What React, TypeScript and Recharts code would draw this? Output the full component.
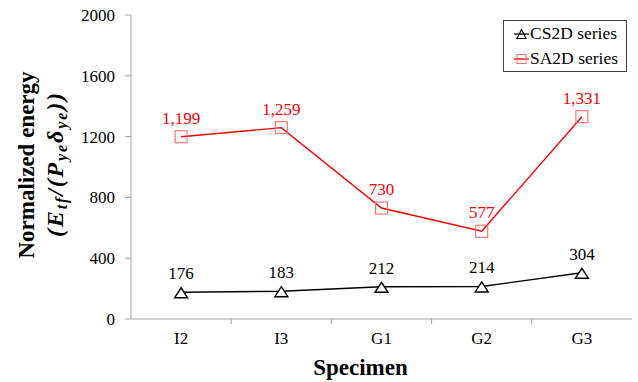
import React from 'react';
import { LineChart, Line, XAxis, YAxis, Legend, LabelList } from 'recharts';

// Specimens and normalized energy values for the two test series
const specimens = ['I2', 'I3', 'G1', 'G2', 'G3'];
const cs2dSeries = [176, 183, 212, 214, 304];
const sa2dSeries = [1199, 1259, 730, 577, 1331];
const yTicks = [0, 400, 800, 1200, 1600, 2000];

const data = specimens.map((s, i) => ({ specimen: s, cs2d: cs2dSeries[i], sa2d: sa2dSeries[i] }));

const W = 638;
const H = 382;
const MARGIN = { top: 15, right: 6, left: 0, bottom: 0 };
const Y_AXIS_W = 131;
const X_AXIS_H = 63;
const PLOT_W = W - MARGIN.left - MARGIN.right - Y_AXIS_W;
const BAND = PLOT_W / specimens.length;

const FONT = '"Liberation Serif", "Times New Roman", serif';
const AXIS_GRAY = '#a3a3a3';
const RED = '#ff0000';

const fmt = (v: number) => v.toLocaleString('en-US');

const Triangle = (props: any) => {
  const { cx, cy } = props;
  if (cx == null || cy == null) return null;
  return (
    <path
      d={`M${cx},${cy - 4.5} L${cx + 6.5},${cy + 5.5} L${cx - 6.5},${cy + 5.5} Z`}
      fill="#fff"
      stroke="#000"
      strokeWidth={1.4}
    />
  );
};

const Square = (props: any) => {
  const { cx, cy } = props;
  if (cx == null || cy == null) return null;
  return <rect x={cx - 6} y={cy - 6} width={12} height={12} fill="none" stroke="#ff6a6a" strokeWidth={1.1} />;
};

// Category labels centred on each band, tick marks on the band boundaries
const CategoryTick = (props: any) => {
  const { x, y, payload, index } = props;
  const last = index === specimens.length - 1;
  return (
    <g>
      {!last && <line x1={x + BAND / 2} x2={x + BAND / 2} y1={y} y2={y + 5} stroke={AXIS_GRAY} />}
      <text x={x} y={y + 13} dy="0.71em" textAnchor="middle" style={{ fontFamily: FONT, fontSize: 17 }} fill="#000">
        {payload.value}
      </text>
    </g>
  );
};

const ValueTick = (props: any) => {
  const { x, y, payload } = props;
  return (
    <text x={x} y={y} dy="0.355em" textAnchor="end" style={{ fontFamily: FONT, fontSize: 17 }} fill="#000">
      {payload.value}
    </text>
  );
};

const YTitle = (props: any) => {
  const vb = props.viewBox || { y: 15, height: 304 };
  const cy = vb.y + vb.height / 2 - 2;
  const x1 = 34;
  const x2 = 63;
  const formulaLen = 144;
  const base = { fontFamily: FONT, fontWeight: 'bold' as const, fill: '#000' };
  const sub = { fontSize: 16, baselineShift: '-22%' } as React.CSSProperties;
  return (
    <g>
      <g transform={`translate(${x1} ${cy}) rotate(-90)`}>
        <text x={0} y={0} textAnchor="middle" style={{ ...base, fontSize: 23 }}>
          Normalized energy
        </text>
      </g>
      <g transform={`translate(${x2} ${cy}) rotate(-90)`}>
        <text
          x={-formulaLen / 2}
          y={0}
          textAnchor="start"
          textLength={formulaLen}
          lengthAdjust="spacing"
          style={{ ...base, fontSize: 24, fontStyle: 'italic' }}
        >
          <tspan>(E</tspan>
          <tspan style={sub}>tf</tspan>
          <tspan>/(P</tspan>
          <tspan style={sub}>ye</tspan>
          <tspan>δ</tspan>
          <tspan style={sub}>ye</tspan>
          <tspan>))</tspan>
        </text>
      </g>
    </g>
  );
};

const XTitle = (props: any) => {
  const vb = props.viewBox || { x: 131, width: 501, y: 319 };
  return (
    <text
      x={vb.x + vb.width / 2 - 21}
      y={375}
      textAnchor="middle"
      style={{ fontFamily: FONT, fontWeight: 'bold', fontSize: 23 }}
      fill="#000"
    >
      Specimen
    </text>
  );
};

const LegendBox = () => {
  const rows = [
    { name: 'CS2D series', color: '#000', kind: 'tri' },
    { name: 'SA2D series', color: RED, kind: 'sq' },
  ];
  return (
    <div
      style={{
        border: '1px solid #404040',
        background: '#fff',
        width: 122,
        height: 50,
        fontFamily: FONT,
        fontSize: 17.5,
        color: '#000',
      }}
    >
      {rows.map((r) => (
        <div key={r.name} style={{ display: 'flex', alignItems: 'center', height: 25, paddingLeft: 9 }}>
          <svg width={17} height={14} style={{ display: 'block' }}>
            <line x1={1} x2={16} y1={7} y2={7} stroke={r.color} strokeWidth={1.3} />
            {r.kind === 'tri' ? (
              <path d="M8.5,2.5 L13,11.5 L4,11.5 Z" fill="none" stroke="#000" strokeWidth={1.2} />
            ) : (
              <rect x={4} y={2.5} width={9} height={9} fill="none" stroke="#ff6a6a" strokeWidth={1} />
            )}
          </svg>
          <span style={{ whiteSpace: 'nowrap' }}>{r.name}</span>
        </div>
      ))}
    </div>
  );
};

export default function App() {
  return (
    <div style={{ position: 'absolute', left: 0, top: 0, width: W, height: H, background: '#fff', fontFamily: FONT }}>
      <LineChart width={W} height={H} data={data} margin={MARGIN} style={{ fontFamily: FONT }}>
        <XAxis
          dataKey="specimen"
          height={X_AXIS_H}
          stroke={AXIS_GRAY}
          padding={{ left: BAND / 2, right: BAND / 2 }}
          tickSize={0}
          tickMargin={0}
          tickLine={false}
          tick={<CategoryTick />}
          interval={0}
          label={<XTitle />}
        />
        <XAxis xAxisId="top" dataKey="specimen" orientation="top" height={0} tick={false} tickLine={false} stroke={AXIS_GRAY} />
        <YAxis
          domain={[0, 2000]}
          ticks={yTicks}
          width={Y_AXIS_W}
          stroke={AXIS_GRAY}
          tickSize={6}
          tickMargin={10}
          tick={<ValueTick />}
          allowDataOverflow
          label={<YTitle />}
        />
        <YAxis yAxisId="right" orientation="right" domain={[0, 2000]} width={0} tick={false} tickLine={false} stroke={AXIS_GRAY} />
        <Legend
          layout="vertical"
          align="center"
          verticalAlign="middle"
          content={<LegendBox />}
          wrapperStyle={{ left: 503, top: 20, width: 124, height: 52 }}
        />
        <Line
          dataKey="cs2d"
          name="CS2D series"
          stroke="#000"
          strokeWidth={1.4}
          dot={<Triangle />}
          activeDot={false}
          isAnimationActive={false}
        >
          <LabelList dataKey="cs2d" position="top" offset={13} formatter={fmt} fill="#000" style={{ fontFamily: FONT, fontSize: 17 }} />
        </Line>
        <Line
          dataKey="sa2d"
          name="SA2D series"
          stroke={RED}
          strokeWidth={1.4}
          dot={<Square />}
          activeDot={false}
          isAnimationActive={false}
        >
          <LabelList dataKey="sa2d" position="top" offset={13} formatter={fmt} fill={RED} style={{ fontFamily: FONT, fontSize: 17 }} />
        </Line>
      </LineChart>
    </div>
  );
}
